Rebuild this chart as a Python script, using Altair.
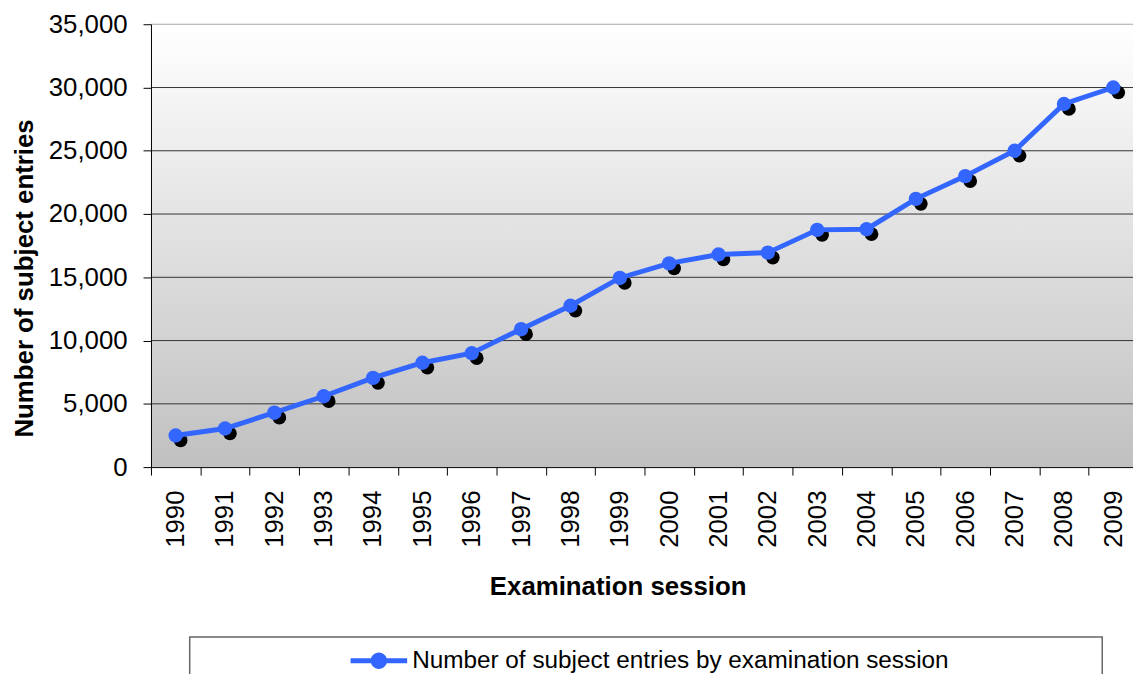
import altair as alt
import pandas as pd

# ---- data ----
years = ["1990", "1991", "1992", "1993", "1994", "1995", "1996", "1997", "1998", "1999",
         "2000", "2001", "2002", "2003", "2004", "2005", "2006", "2007", "2008", "2009"]
entries = [2500, 3050, 4300, 5600, 7050, 8250, 9000, 10900, 12750, 14950,
           16100, 16800, 16950, 18750, 18800, 21200, 23000, 25000, 28700, 30000]
y_ticks = [0, 5000, 10000, 15000, 20000, 25000, 30000, 35000]
grid_values = [5000, 10000, 15000, 20000, 25000, 30000, 35000]
series_name = "Number of subject entries by examination session"
x_title = "Examination session"
y_title = "Number of subject entries"

BLUE = "#3366FF"
FONT = "Liberation Sans"

df = pd.DataFrame({"year": years, "entries": entries, "series": [series_name] * len(years)})
grid_df = pd.DataFrame({"entries": grid_values})

x_enc = alt.X(
    "year:O", sort=years,
    scale=alt.Scale(type="band", paddingInner=0, paddingOuter=0, range=[0, 994]),
    axis=alt.Axis(
        title=x_title, labelAngle=270, labelFontSize=26, labelFont=FONT, labelColor="black",
        labelPadding=15, tickBand="extent", tickSize=8, tickColor="black", domainColor="black",
        grid=False, titleFontSize=26, titleFont=FONT, titleFontWeight="bold", titleColor="black",
        titleX=470, titleY=128.7, titleAlign="center", titleBaseline="alphabetic", zindex=1,
    ),
)
y_scale = alt.Scale(domain=[0, 35000], nice=False)
y_axis = alt.Axis(
    title=y_title, values=y_ticks, format=",d", labelFontSize=26, labelFont=FONT, labelColor="black",
    labelPadding=16, tickSize=8, tickColor="black", domainColor="black", grid=False,
    titleFontSize=26, titleFont=FONT, titleFontWeight="bold", titleColor="black",
    titleX=-119, titleY=255.5, titleAngle=270, titleAlign="center", titleBaseline="alphabetic",
    zindex=1,
)
y_enc = alt.Y("entries:Q", scale=y_scale, axis=y_axis)

bg = alt.Chart(alt.Data(values=[{}])).mark_rect(
    fill=alt.Gradient(
        gradient="linear",
        stops=[alt.GradientStop(color="#ffffff", offset=0), alt.GradientStop(color="#c0c0c0", offset=1)],
        x1=0, x2=0, y1=0, y2=1,
    )
).encode(x=alt.value(0), x2=alt.value("width"), y=alt.value(0), y2=alt.value("height"))

legend_box = alt.Chart(alt.Data(values=[{}])).mark_rect(
    fill="white", stroke="#666666", strokeWidth=1.5
).encode(x=alt.value(39), x2=alt.value(958), y=alt.value(617), y2=alt.value(720))

grid = alt.Chart(grid_df).mark_rule(strokeWidth=1).encode(
    y=y_enc,
    color=alt.condition("datum.entries >= 35000", alt.value("#a6a6a6"), alt.value("#333333")),
)

base = alt.Chart(df).encode(x=x_enc, y=y_enc)

shadow = base.mark_circle(color="black", opacity=1, size=190, xOffset=5, yOffset=5)
line = base.mark_line(color=BLUE, strokeWidth=5)

symbol_path = ("M-1,-0.088H1V0.088H-1Z "
               "M-0.29,0A0.29,0.29,0,1,1,0.29,0A0.29,0.29,0,1,1,-0.29,0Z")

points = base.mark_circle(opacity=1, size=210).encode(
    color=alt.Color(
        "series:N",
        scale=alt.Scale(range=[BLUE]),
        legend=alt.Legend(
            orient="none", legendX=201, legendY=612.5, title=None,
            symbolType=symbol_path, symbolSize=3249, symbolStrokeWidth=0,
            labelFontSize=24.5, labelFont=FONT, labelColor="black", labelLimit=1000,
            labelOffset=5, padding=0,
        ),
    )
)

chart = alt.layer(bg, legend_box, grid, shadow, line, points).properties(
    width=989, height=446,
    padding={"left": 144, "top": 14, "right": 0, "bottom": 206},
    autosize=alt.AutoSizeParams(type="none"),
).configure(font=FONT).configure_view(strokeWidth=0)

chart.save("out.html", embed_options={"renderer": "svg", "actions": False})
